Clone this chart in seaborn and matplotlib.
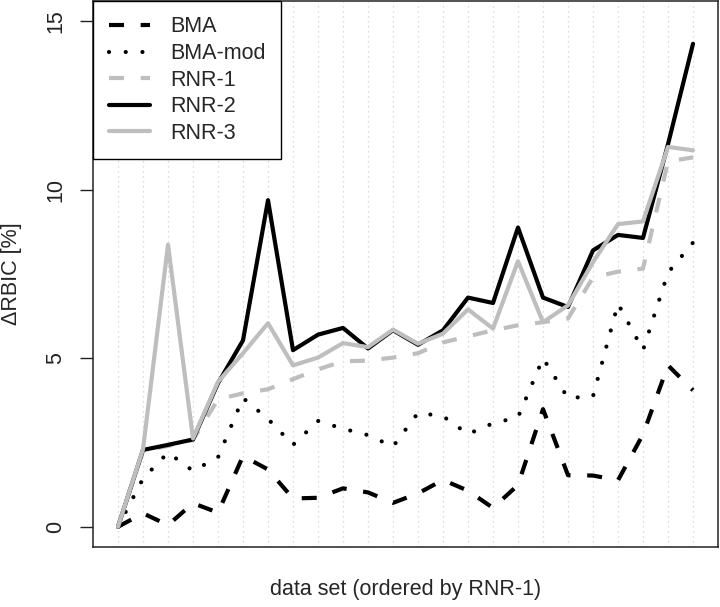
import numpy as np
import pandas as pd
import seaborn as sns
import matplotlib
matplotlib.use("Agg")
import matplotlib.pyplot as plt

# data sets 1..24, ordered by RNR-1
data_set = list(range(1, 25))

bma = [0, 0.40, 0.05, 0.70, 0.42, 2.10, 1.70, 0.84, 0.86, 1.14, 1.02, 0.71,
       0.99, 1.39, 1.07, 0.56, 1.24, 3.49, 1.53, 1.52, 1.38, 2.74, 4.79, 4.05]
bma_mod = [0, 1.43, 2.20, 1.66, 2.06, 3.82, 3.20, 2.43, 3.14, 2.91, 2.72, 2.38,
           3.38, 3.28, 2.75, 3.07, 3.25, 5.00, 3.82, 3.87, 6.62, 5.24, 7.54, 8.43]
rnr_1 = [0, 2.25, 2.40, 2.58, 3.78, 3.96, 4.08, 4.38, 4.67, 4.91, 4.93, 5.02,
         5.15, 5.47, 5.65, 5.83, 5.98, 6.07, 6.18, 7.40, 7.57, 7.66, 10.84, 10.96]
rnr_2 = [0, 2.28, 2.43, 2.59, 4.26, 5.53, 9.69, 5.24, 5.70, 5.90, 5.29, 5.83,
         5.40, 5.83, 6.80, 6.64, 8.88, 6.80, 6.52, 8.20, 8.66, 8.57, 11.35, 14.33]
rnr_3 = [0, 2.30, 8.37, 2.62, 4.30, 5.15, 6.04, 4.79, 5.02, 5.45, 5.33, 5.85,
         5.43, 5.73, 6.45, 5.88, 7.88, 6.07, 6.57, 7.85, 8.98, 9.06, 11.27, 11.17]

methods = ["BMA", "BMA-mod", "RNR-1", "RNR-2", "RNR-3"]
values = [bma, bma_mod, rnr_1, rnr_2, rnr_3]

df = pd.DataFrame({"data set": data_set})
for name, vals in zip(methods, values):
    df[name] = vals

sns.set_style("white")
plt.rcParams["font.family"] = ["Liberation Sans", "DejaVu Sans"]

fs = 15.5

fig = plt.figure(figsize=(7.2, 6.07), dpi=100)
ax = fig.add_axes([93 / 720, 1 - 547 / 607, 625 / 720, 546 / 607])

styles = {
    "BMA": dict(color="black", linestyle=(0, (3.6, 4.0)), dash_capstyle="butt"),
    "BMA-mod": dict(color="black", linestyle=(0, (0.01, 4.0)), dash_capstyle="round"),
    "RNR-1": dict(color="#bebebe", linestyle=(0, (3.6, 4.0)), dash_capstyle="butt"),
    "RNR-2": dict(color="black", linestyle="-"),
    "RNR-3": dict(color="#bebebe", linestyle="-"),
}

for name in methods:
    sns.lineplot(data=df, x="data set", y=name, ax=ax, label=name,
                 linewidth=3, **styles[name])

ax.set_xlim(0, 25)
ax.set_ylim(-0.6, 15.6)

# dotted vertical guides at each data set
ax.set_xticks(data_set)
ax.set_xticklabels([])
ax.grid(axis="x", color="#d0d0d0", linestyle=(0, (1, 3)), linewidth=0.9)
ax.grid(axis="y", visible=False)
ax.set_axisbelow(True)

ax.set_yticks([0, 5, 10, 15])
ax.set_yticklabels(["0", "5", "10", "15"], rotation=90, va="center")
ax.tick_params(axis="y", left=True, length=9.5, width=1.0, pad=10,
               labelsize=fs, colors="#222222")
ax.tick_params(axis="x", bottom=False, length=0)

for sp in ax.spines.values():
    sp.set_color("#222222")
    sp.set_linewidth(1.1)

ax.set_xlabel("data set (ordered by RNR-1)", fontsize=fs)
ax.set_ylabel("\u0394RBIC [%]", fontsize=fs)
ax.xaxis.set_label_coords(0.5, -0.058)
ax.yaxis.set_label_coords(-0.114, 0.5)

leg = ax.legend(loc="upper left", borderaxespad=0, fancybox=False,
                framealpha=1, edgecolor="black", fontsize=fs,
                handlelength=1.95, handletextpad=0.92, labelspacing=0.26,
                borderpad=0.72)
leg.get_frame().set_linewidth(1.0)

fig.savefig("out.png", dpi=100)
